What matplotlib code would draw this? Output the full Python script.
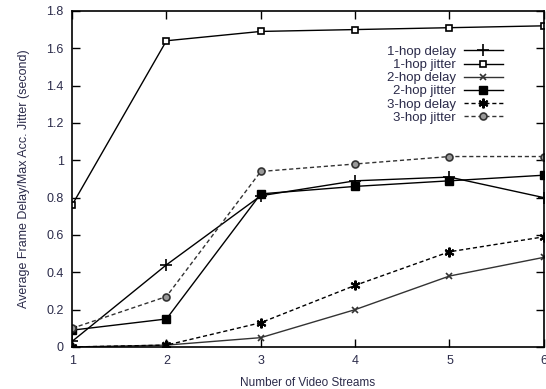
import matplotlib
matplotlib.use('Agg')
import matplotlib.pyplot as plt

streams = [1, 2, 3, 4, 5, 6]

hop1_delay = [0.03, 0.44, 0.81, 0.89, 0.91, 0.80]
hop1_jitter = [0.76, 1.64, 1.69, 1.70, 1.71, 1.72]
hop2_delay = [0.00, 0.01, 0.05, 0.20, 0.38, 0.48]
hop2_jitter = [0.09, 0.15, 0.82, 0.86, 0.89, 0.92]
hop3_delay = [0.00, 0.01, 0.13, 0.33, 0.51, 0.59]
hop3_jitter = [0.10, 0.27, 0.94, 0.98, 1.02, 1.02]

labels = ['1-hop delay', '1-hop jitter', '2-hop delay',
          '2-hop jitter', '3-hop delay', '3-hop jitter']

plt.rcParams['font.family'] = ['Liberation Sans', 'DejaVu Sans']
txt = '#2b2b4a'

fig = plt.figure(figsize=(5.46, 3.89), dpi=100)
ax = fig.add_axes([0.132, 0.108, 0.864, 0.864])

ax.plot(streams, hop1_delay, color='black', lw=1, marker='+', ms=8, mew=1.2, label=labels[0])
ax.plot(streams, hop1_jitter, color='black', lw=1, marker='s', ms=5, mfc='white', mew=1.2, label=labels[1])
ax.plot(streams, hop2_delay, color='#333333', lw=1, marker='x', ms=5, mew=1.2, label=labels[2])
ax.plot(streams, hop2_jitter, color='black', lw=1, marker='s', ms=6, label=labels[3])
ax.plot(streams, hop3_delay, color='black', lw=1, ls=(0, (3, 2)), marker=(6, 2, 0), ms=7, mew=1.5, label=labels[4])
ax.plot(streams, hop3_jitter, color='#333333', lw=1, ls=(0, (3, 2)), marker='o', ms=5, mfc='#999999', mew=1.2, label=labels[5])

ax.set_xlim(1, 6)
ax.set_ylim(0, 1.8)
ax.set_xticks(streams)
ax.set_yticks([0, 0.2, 0.4, 0.6, 0.8, 1, 1.2, 1.4, 1.6, 1.8])
ax.set_yticklabels(['0', '0.2', '0.4', '0.6', '0.8', '1', '1.2', '1.4', '1.6', '1.8'])
ax.tick_params(direction='in', length=6, width=1, top=True, right=True,
               labelsize=9, labelcolor=txt, pad=6)
for s in ax.spines.values():
    s.set_linewidth(1.2)

ax.set_xlabel('Number of Video Streams', fontsize=8.5, color=txt, labelpad=7)
ax.set_ylabel('Average Frame Delay/Max Acc. Jitter (second)', fontsize=9, color=txt, labelpad=12)

leg = ax.legend(loc='upper right', bbox_to_anchor=(0.925, 0.912), markerfirst=False,
                frameon=False, fontsize=9.5, handlelength=3.0, handletextpad=0.6,
                labelspacing=0.07, borderaxespad=0)
for t in leg.get_texts():
    t.set_color(txt)

fig.savefig('out.png', dpi=100)
